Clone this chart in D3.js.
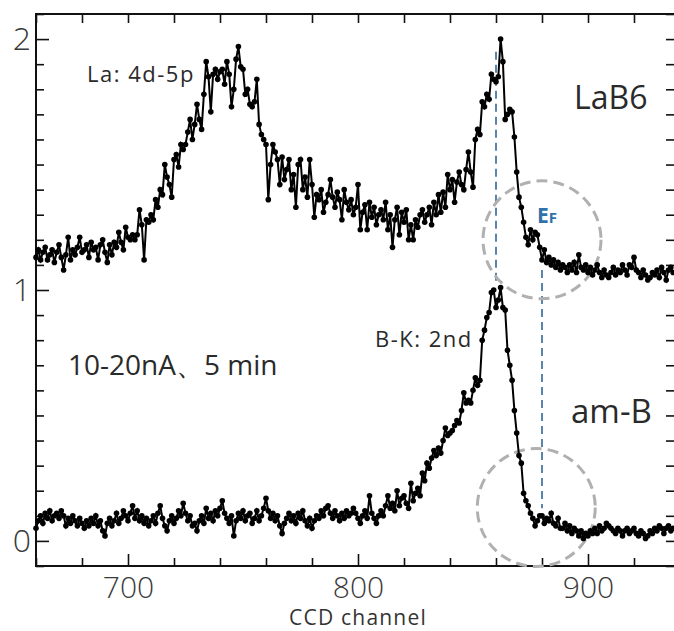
<!DOCTYPE html>
<html>
<head>
<meta charset="utf-8">
<script src="https://cdn.jsdelivr.net/npm/d3@7"></script>
<style>
  body { margin: 0; background: #fff; }
  svg { display: block; }
  text { font-family: "Open Sans", "Noto Sans", sans-serif; }
</style>
</head>
<body>
<svg width="674" height="631"></svg>
<script>
// CCD channel of the first point; one point per channel
var channelStart = 660;

// LaB6 spectrum (offset by +1)
var lab6 = [
  1.13, 1.16, 1.12, 1.15, 1.17, 1.12, 1.14, 1.16, 1.11, 1.15,
  1.18, 1.13, 1.08, 1.14, 1.21, 1.12, 1.16, 1.14, 1.17, 1.21,
  1.15, 1.16, 1.18, 1.13, 1.19, 1.16, 1.17, 1.12, 1.18, 1.20,
  1.15, 1.11, 1.18, 1.14, 1.19, 1.17, 1.23, 1.19, 1.16, 1.25,
  1.21, 1.20, 1.22, 1.20, 1.22, 1.32, 1.26, 1.12, 1.28, 1.27,
  1.30, 1.28, 1.36, 1.33, 1.40, 1.38, 1.50, 1.45, 1.42, 1.37,
  1.52, 1.54, 1.49, 1.58, 1.56, 1.58, 1.63, 1.68, 1.60, 1.66,
  1.74, 1.68, 1.64, 1.78, 1.91, 1.85, 1.71, 1.86, 1.88, 1.84,
  1.87, 1.88, 1.82, 1.91, 1.86, 1.73, 1.80, 1.92, 1.97, 1.89,
  1.88, 1.78, 1.80, 1.74, 1.73, 1.75, 1.84, 1.66, 1.62, 1.60,
  1.58, 1.36, 1.50, 1.58, 1.55, 1.52, 1.42, 1.53, 1.44, 1.48,
  1.52, 1.40, 1.46, 1.33, 1.50, 1.52, 1.40, 1.45, 1.37, 1.52,
  1.42, 1.29, 1.38, 1.36, 1.40, 1.31, 1.35, 1.38, 1.44, 1.37,
  1.33, 1.39, 1.36, 1.28, 1.40, 1.35, 1.32, 1.36, 1.30, 1.33,
  1.42, 1.24, 1.31, 1.34, 1.24, 1.35, 1.29, 1.33, 1.26, 1.30,
  1.32, 1.28, 1.35, 1.24, 1.30, 1.17, 1.28, 1.33, 1.22, 1.31,
  1.27, 1.32, 1.20, 1.26, 1.20, 1.28, 1.25, 1.30, 1.32, 1.27,
  1.30, 1.33, 1.26, 1.35, 1.30, 1.38, 1.31, 1.39, 1.33, 1.46,
  1.40, 1.44, 1.35, 1.43, 1.47, 1.42, 1.40, 1.48, 1.55, 1.47,
  1.41, 1.60, 1.64, 1.62, 1.75, 1.73, 1.78, 1.76, 1.86, 1.84,
  1.83, 1.85, 2.00, 1.91, 1.68, 1.70, 1.72, 1.71, 1.61, 1.47,
  1.37, 1.33, 1.27, 1.21, 1.18, 1.24, 1.20, 1.23, 1.22, 1.17,
  1.12, 1.16, 1.11, 1.13, 1.10, 1.12, 1.09, 1.11, 1.08, 1.10,
  1.09, 1.07, 1.10, 1.08, 1.11, 1.07, 1.14, 1.09, 1.08, 1.10,
  1.07, 1.09, 1.06, 1.08, 1.10, 1.07, 1.05, 1.08, 1.06, 1.05,
  1.07, 1.09, 1.06, 1.08, 1.07, 1.10, 1.08, 1.06, 1.10, 1.09,
  1.13, 1.08, 1.07, 1.05, 1.08, 1.06, 1.04, 1.05, 1.07, 1.06,
  1.08, 1.05, 1.09, 1.07, 1.04, 1.08, 1.09, 1.07
];

// am-B spectrum
var amB = [
  0.05, 0.08, 0.10, 0.07, 0.11, 0.09, 0.12, 0.08, 0.10, 0.11,
  0.09, 0.12, 0.10, 0.06, 0.09, 0.07, 0.10, 0.08, 0.06, 0.09,
  0.07, 0.05, 0.08, 0.06, 0.09, 0.07, 0.10, 0.06, 0.08, 0.04,
  0.02, 0.07, 0.09, 0.06, 0.08, 0.11, 0.07, 0.09, 0.12, 0.10,
  0.08, 0.11, 0.14, 0.09, 0.12, 0.08, 0.10, 0.07, 0.09, 0.06,
  0.08, 0.10, 0.07, 0.11, 0.14, 0.09, 0.06, 0.04, 0.08, 0.10,
  0.07, 0.09, 0.12, 0.10, 0.15, 0.11, 0.08, 0.10, 0.06, 0.07,
  0.04, 0.08, 0.10, 0.07, 0.13, 0.09, 0.11, 0.08, 0.12, 0.10,
  0.13, 0.16, 0.11, 0.09, 0.07, 0.10, 0.02, 0.08, 0.11, 0.09,
  0.12, 0.08, 0.10, 0.11, 0.07, 0.09, 0.12, 0.08, 0.10, 0.13,
  0.17, 0.12, 0.09, 0.11, 0.08, 0.10, 0.06, 0.03, 0.07, 0.09,
  0.11, 0.08, 0.10, 0.07, 0.11, 0.09, 0.12, 0.08, 0.06, 0.09,
  0.05, 0.08, 0.10, 0.09, 0.12, 0.10, 0.13, 0.14, 0.11, 0.09,
  0.12, 0.10, 0.08, 0.11, 0.09, 0.12, 0.10, 0.11, 0.13, 0.11,
  0.09, 0.07, 0.10, 0.12, 0.09, 0.18, 0.11, 0.09, 0.07, 0.10,
  0.12, 0.10, 0.14, 0.18, 0.13, 0.15, 0.12, 0.20, 0.14, 0.17,
  0.18, 0.15, 0.13, 0.23, 0.16, 0.19, 0.21, 0.18, 0.27, 0.24,
  0.31, 0.29, 0.33, 0.36, 0.34, 0.37, 0.35, 0.40, 0.45, 0.42,
  0.43, 0.44, 0.46, 0.48, 0.47, 0.52, 0.59, 0.55, 0.56, 0.55,
  0.60, 0.65, 0.62, 0.64, 0.80, 0.84, 0.89, 0.91, 0.99, 1.00,
  0.93, 0.96, 1.01, 0.93, 0.92, 0.76, 0.70, 0.64, 0.52, 0.43,
  0.34, 0.31, 0.19, 0.16, 0.14, 0.11, 0.09, 0.06, 0.08, 0.10,
  0.10, 0.07, 0.09, 0.08, 0.11, 0.07, 0.06, 0.09, 0.05, 0.05,
  0.07, 0.04, 0.06, 0.03, 0.05, 0.04, 0.02, 0.04, 0.01, 0.03,
  0.02, 0.04, 0.03, 0.05, 0.03, 0.06, 0.04, 0.05, 0.07, 0.06,
  0.05, 0.04, 0.03, 0.05, 0.04, 0.02, 0.04, 0.05, 0.03, 0.04,
  0.05, 0.03, 0.02, 0.04, 0.03, 0.01, 0.02, 0.04, 0.03, 0.05,
  0.04, 0.06, 0.05, 0.03, 0.05, 0.06, 0.04, 0.05
];

var xMajor = [700, 800, 900];
var yMajor = [0, 1, 2];

// annotations: [channel, value] pairs
var peakLine = [[860, 1.95], [860, 1.03]];
var efLine = [[880, 1.08], [880, 0.13]];
var circles = [[880, 1.2], [877.5, 0.133]];

var svg = d3.select("svg"),
    width = +svg.attr("width"),
    height = +svg.attr("height"),
    marge = {top: 14, left: 36, bottom: 65, right: -1};

var x = d3.scaleLinear()
    .domain([660, 660 + (width - marge.right - marge.left) / 2.3])
    .range([marge.left, width - marge.right]);
var y = d3.scaleLinear()
    .domain([-0.1, 2.1])
    .range([height - marge.bottom, marge.top]);

function toPoints(arr){
    return arr.map(function(v, i){ return [channelStart + i, v]; });
}

// ticks
var xMinor = d3.range(660, 940, 20).filter(function(d){ return xMajor.indexOf(d) < 0; });
var yMinor = d3.range(-1, 22).map(function(d){ return d / 10; })
    .filter(function(d){ return yMajor.indexOf(d) < 0; });

function styleAxis(sel){
    sel.select(".domain").remove();
    sel.selectAll("line").attr("stroke", "#111").attr("stroke-width", 1.6);
    sel.selectAll("text").attr("fill", "#3a3a3a").style("font-weight", 300);
}

var h = height - marge.bottom;
var r = width - marge.right;

svg.append("g").attr("transform", "translate(0," + h + ")")
    .call(d3.axisBottom(x).tickValues(xMajor).tickSize(-12).tickPadding(10))
    .call(styleAxis)
    .selectAll("text").attr("font-size", 30).attr("dy", "0.72em");
svg.append("g").attr("transform", "translate(0," + h + ")")
    .call(d3.axisBottom(x).tickValues(xMinor).tickSize(-8).tickFormat(""))
    .call(styleAxis);
svg.append("g").attr("transform", "translate(0," + marge.top + ")")
    .call(d3.axisTop(x).tickValues(d3.range(660, 940, 20)).tickSize(-9).tickFormat(""))
    .call(styleAxis);

svg.append("g").attr("transform", "translate(" + marge.left + ",0)")
    .call(d3.axisLeft(y).tickValues(yMajor).tickSize(-13).tickPadding(5).tickFormat(d3.format("d")))
    .call(styleAxis)
    .selectAll("text").attr("font-size", 32);
svg.append("g").attr("transform", "translate(" + marge.left + ",0)")
    .call(d3.axisLeft(y).tickValues(yMinor).tickSize(-8).tickFormat(""))
    .call(styleAxis);
svg.append("g").attr("transform", "translate(" + r + ",0)")
    .call(d3.axisRight(y).tickValues(yMinor.concat(yMajor)).tickSize(-9).tickFormat(""))
    .call(styleAxis);

svg.append("rect")
    .attr("x", marge.left).attr("y", marge.top)
    .attr("width", r - marge.left).attr("height", h - marge.top)
    .attr("fill", "none").attr("stroke", "#111").attr("stroke-width", 2);

svg.append("text")
    .attr("x", x(800)).attr("y", 625)
    .attr("text-anchor", "middle").attr("font-size", 21).attr("fill", "#333")
    .style("letter-spacing", "1.2px")
    .text("CCD channel");

// dashed guides
var dashLine = d3.line().x(function(d){ return x(d[0]); }).y(function(d){ return y(d[1]); });
[peakLine, efLine].forEach(function(l){
    svg.append("path").attr("d", dashLine(l))
        .attr("stroke", "#5b84ad").attr("stroke-width", 2)
        .attr("stroke-dasharray", "8,5").attr("fill", "none");
});
svg.selectAll(".circ").data(circles).enter().append("circle")
    .attr("cx", function(d){ return x(d[0]); })
    .attr("cy", function(d){ return y(d[1]); })
    .attr("r", 59)
    .attr("fill", "none").attr("stroke", "#b0b0b0").attr("stroke-width", 3)
    .attr("stroke-dasharray", "11,6");

// spectra
var line = d3.line().x(function(d){ return x(d[0]); }).y(function(d){ return y(d[1]); });
[lab6, amB].forEach(function(s){
    var pts = toPoints(s);
    var g = svg.append("g");
    g.append("path").attr("d", line(pts))
        .attr("stroke", "#000").attr("stroke-width", 2).attr("fill", "none");
    g.selectAll("circle").data(pts).enter().append("circle")
        .attr("cx", function(d){ return x(d[0]); })
        .attr("cy", function(d){ return y(d[1]); })
        .attr("r", 2.8).attr("fill", "#000");
});

// labels
function label(txt, px, py, size, ls){
    svg.append("text").attr("x", px).attr("y", py)
        .attr("font-size", size).attr("fill", "#2a2a2a")
        .style("letter-spacing", (ls || 0) + "px").text(txt);
}
label("La: 4d-5p", 87, 82, 22, 1.5);
label("LaB6", 574, 109, 32);
label("am-B", 571, 423, 33);
label("10-20nA、5 min", 68, 375, 28);
label("B-K: 2nd", 375, 347, 22, 1.5);

var ef = svg.append("text").attr("x", 537).attr("y", 223)
    .attr("fill", "#2f72a8").style("font-weight", 700);
ef.append("tspan").attr("font-size", 21).text("E");
ef.append("tspan").attr("font-size", 15).text("F");
</script>
</body>
</html>
